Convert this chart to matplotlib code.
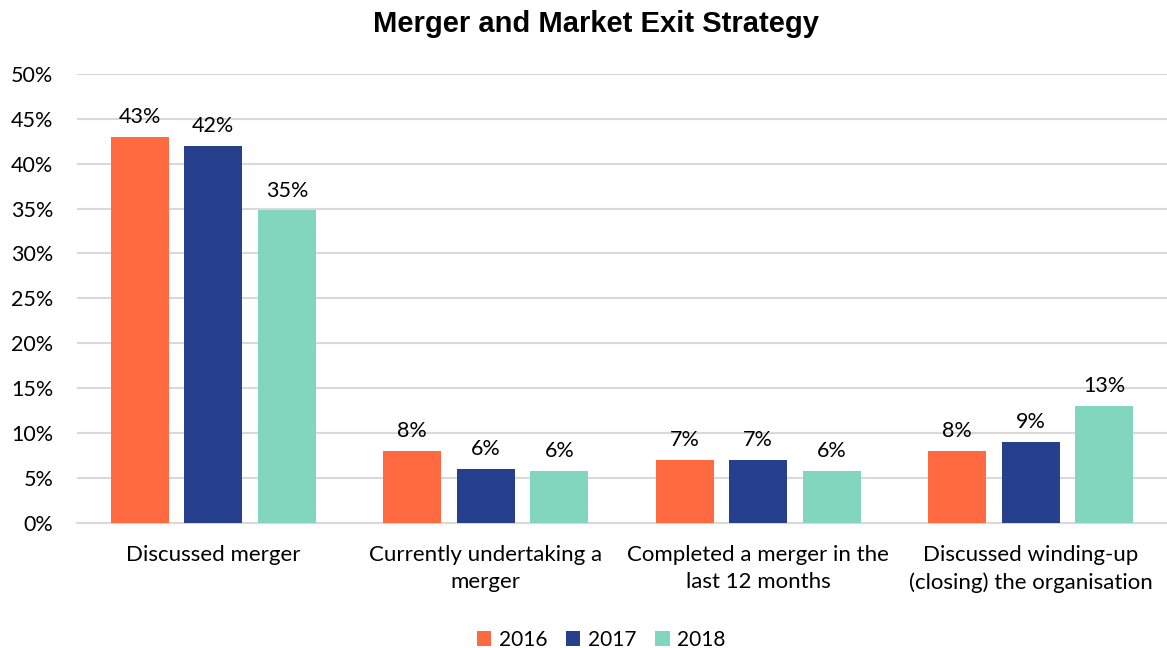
import matplotlib
matplotlib.use('Agg')
import matplotlib.pyplot as plt
import numpy as np

categories = ['Discussed merger', 'Currently undertaking a\nmerger',
              'Completed a merger in the\nlast 12 months',
              'Discussed winding-up\n(closing) the organisation']
years = ['2016', '2017', '2018']
v2016 = [43, 8, 7, 8]
v2017 = [42, 6, 7, 9]
v2018 = [34.8, 5.8, 5.8, 13]
labels2016 = ['43%', '8%', '7%', '8%']
labels2017 = ['42%', '6%', '7%', '9%']
labels2018 = ['35%', '6%', '6%', '13%']
colors = ['#FF6A40', '#26408E', '#82D6BE']

plt.rcParams['font.family'] = ['Lato', 'DejaVu Sans']

fig = plt.figure(figsize=(11.67, 6.48), dpi=100)
ax = fig.add_axes([0.066, 0.193, 0.934, 0.693])

x = np.arange(len(categories))
w = 0.212
off = 0.27
series = [(v2016, labels2016), (v2017, labels2017), (v2018, labels2018)]
for i, (vals, labs) in enumerate(series):
    bars = ax.bar(x + (i - 1) * off, vals, w, color=colors[i], label=years[i], zorder=3)
    for b, t in zip(bars, labs):
        ax.text(b.get_x() + b.get_width() / 2, b.get_height() + 1.1, t,
                ha='center', va='bottom', fontsize=15.5)

ax.set_xlim(-0.5, 3.5)
ax.set_ylim(0, 50)
ax.set_yticks(np.arange(0, 51, 5))
ax.set_yticklabels(['%d%%' % v for v in range(0, 51, 5)], fontsize=15.5)
ax.set_xticks(x)
ax.set_xticklabels(categories, fontsize=16, linespacing=1.45)
ax.tick_params(axis='x', length=0, pad=16)
ax.tick_params(axis='y', length=0, pad=17)
ax.grid(axis='y', color='#d9d9d9', linewidth=1.5, zorder=0)
for s in ['top', 'right', 'left']:
    ax.spines[s].set_visible(False)
ax.spines['bottom'].set_color('#d9d9d9')
ax.spines['bottom'].set_linewidth(1.5)

fig.suptitle('Merger and Market Exit Strategy', x=0.511, y=0.985,
             fontsize=21, fontweight='bold', family='Liberation Sans')

fig.legend(loc='lower center', bbox_to_anchor=(0.515, -0.032), ncol=3,
           frameon=False, fontsize=15, handlelength=0.7, handleheight=0.7,
           handletextpad=0.35, columnspacing=0.9)

fig.savefig('out.png', dpi=100)
